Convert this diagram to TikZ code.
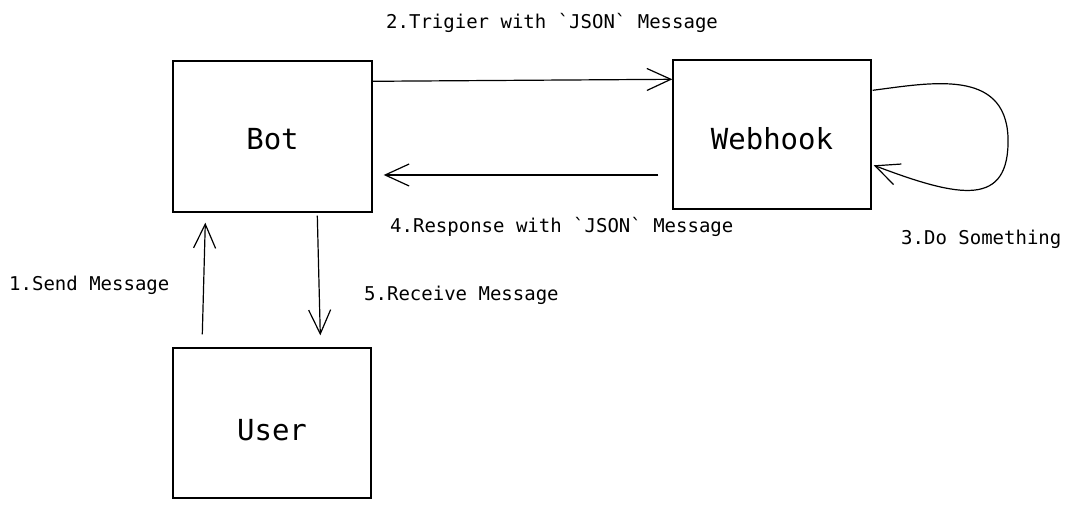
\documentclass[tikz,border=0pt]{standalone}
\usepackage{fontspec}
\usetikzlibrary{arrows.meta}
\newfontfamily\smallmono{DejaVu Sans Mono}
\newfontfamily\bigmono{DejaVu Sans Mono}
\begin{document}
\begin{tikzpicture}[x=1pt,y=1pt,
  box/.style={draw, line width=1.4pt, inner sep=0pt, text depth=0pt, font=\bigmono\fontsize{29}{33}\selectfont},
  lbl/.style={inner sep=0pt, anchor=base west, font=\smallmono\fontsize{19}{22}\selectfont},
  arr/.style={line width=1.2pt, -{Straight Barb[length=24pt,width=22pt,line width=1.2pt]}}]
\useasboundingbox (0,0) rectangle (1075,508);
\node[box, minimum width=199pt, minimum height=151pt, text height=25.6pt] (bot) at (272.5,371.5) {Bot};
\node[box, minimum width=198pt, minimum height=149pt, text height=31pt] (webhook) at (772,373.5) {Webhook};
\node[box, minimum width=198pt, minimum height=150pt, text height=35.4pt] (user) at (272,85) {User};
% labels
\node[lbl] (t2) at (386,479.7) {2.Trigier with \char96JSON\char96{} Message};
\node[lbl] (t4) at (390,275.3) {4.Response with \char96JSON\char96{} Message};
\node[lbl] (t3) at (901,263) {3.Do Something};
\node[lbl] (t1) at (9,217) {1.Send Message};
\node[lbl] (t5) at (364,207.3) {5.Receive Message};
% connectors
\draw[arr] ([yshift=-21pt]bot.north east) -- ([yshift=-20pt]webhook.north west);
\draw[arr] ([shift={(-14pt,-40.5pt)}]webhook.west) -- ([shift={(11pt,-38.5pt)}]bot.east);
\draw[arr] ([xshift=30pt,yshift=13pt]user.north west) -- ([xshift=33pt,yshift=-10pt]bot.south west);
\draw[arr] ([xshift=145pt,yshift=-3pt]bot.south west) -- ([xshift=148pt,yshift=12pt]user.north west);
\coordinate (ls) at ([shift={(1pt,-31pt)}]webhook.north east);
\coordinate (lm) at (1008,371);
\coordinate (le) at ([shift={(2pt,-106pt)}]webhook.north east);
\draw[arr] (ls) .. controls (930,425) and (1005,440) .. (lm) .. controls (1010,300) and (960,310) .. (le);
\end{tikzpicture}
\end{document}
